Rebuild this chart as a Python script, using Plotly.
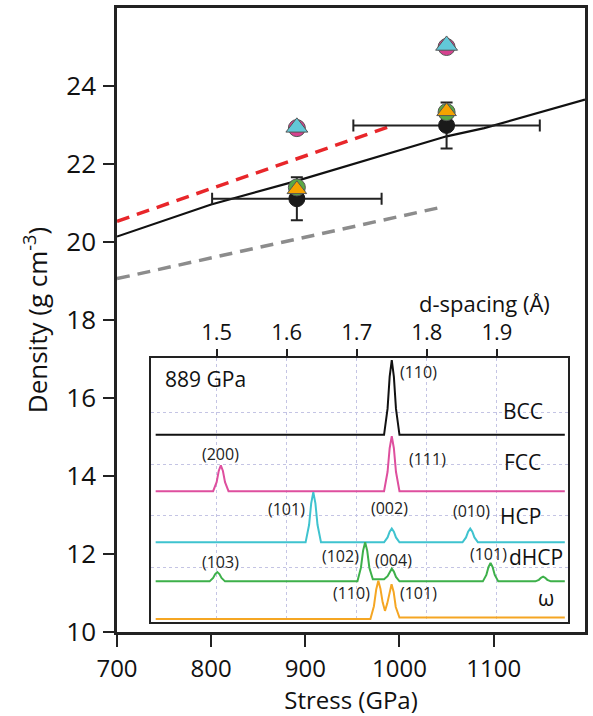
import plotly.graph_objects as go

# ---------------- main panel data ----------------
stress_meas = [891, 1050]
density_meas = [21.11, 22.99]
stress_err = [90, 99]
density_err = [0.55, 0.59]

density_green = [21.40, 23.33]
density_orange = [21.35, 23.35]
density_magenta = [22.92, 25.00]
density_cyan = [22.94, 25.04]

curve_stress = [700, 800, 890, 1050, 1090, 1150, 1197]
curve_density = [20.14, 20.96, 21.56, 22.71, 22.92, 23.32, 23.65]

red_stress = [700, 993]
red_density = [20.53, 22.99]
gray_stress = [700, 1046]
gray_density = [19.06, 20.90]

x_ticks = [700, 800, 900, 1000, 1100]
y_ticks = [10, 12, 14, 16, 18, 20, 22, 24]

# ---------------- inset data (d-spacing in Angstrom, intensity arb.) ----------------
d_ticks = [1.5, 1.6, 1.7, 1.8, 1.9]
offsets = {"BCC": 71.3, "FCC": 49.5, "HCP": 29.7, "dHCP": 14.6, "ω": 0.0}

bcc_d = [1.413, 1.739, 1.744, 1.747, 1.750, 1.753, 1.756, 1.761, 1.997]
bcc_i = [0, 0, 10.1, 22.5, 28.9, 22.5, 10.1, 0, 0]

fcc_d = [1.413, 1.495, 1.500, 1.503, 1.506, 1.509, 1.512, 1.517,
         1.739, 1.744, 1.747, 1.750, 1.753, 1.756, 1.761, 1.997]
fcc_i = [0, 0, 3.5, 7.8, 10.0, 7.8, 3.5, 0,
         0, 7.5, 16.6, 21.3, 16.6, 7.5, 0, 0]

hcp_d = [1.413, 1.627, 1.632, 1.635, 1.638, 1.641, 1.644, 1.649,
         1.739, 1.744, 1.747, 1.750, 1.753, 1.756, 1.761,
         1.851, 1.856, 1.859, 1.862, 1.865, 1.868, 1.873, 1.997]
hcp_i = [0, 0, 6.8, 15.1, 19.4, 15.1, 6.8, 0,
         0, 1.9, 4.1, 5.3, 4.1, 1.9, 0,
         0, 1.9, 4.1, 5.3, 4.1, 1.9, 0, 0]

dhcp_d = [1.413, 1.490, 1.495, 1.498, 1.501, 1.504, 1.507, 1.512,
          1.701, 1.706, 1.709, 1.712, 1.715, 1.718, 1.723,
          1.739, 1.744, 1.747, 1.750, 1.753, 1.756, 1.761,
          1.880, 1.885, 1.888, 1.891, 1.894, 1.897, 1.902,
          1.955, 1.960, 1.963, 1.966, 1.969, 1.972, 1.977, 1.997]
dhcp_i = [0, 0, 1.3, 2.8, 3.6, 2.8, 1.3, 0,
          0, 5.3, 11.8, 15.1, 11.8, 5.3, 0.8,
          0.8, 2.0, 3.8, 4.9, 3.8, 1.7, 0,
          0, 2.5, 5.5, 7.1, 5.5, 2.5, 0,
          0, 0.6, 1.4, 1.8, 1.4, 0.6, 0, 0]

omega_d = [1.413, 1.7195, 1.7245, 1.7278, 1.7308, 1.7338, 1.7370, 1.7403,
           1.7435, 1.7467, 1.7497, 1.7527, 1.7557, 1.7610, 1.997]
omega_i = [0, 0, 5.0, 11.5, 14.8, 11.8, 6.5, 3.2,
           6.0, 10.5, 13.5, 10.5, 4.7, 0.6, 0.6]

peak_labels = ["(110)", "(200)", "(111)", "(101)", "(002)", "(010)",
               "(102)", "(004)", "(103)", "(101)", "(110)", "(101)"]
peak_label_d = [1.7875, 1.5062, 1.8007, 1.5999, 1.7474, 1.8641,
                1.6765, 1.7520, 1.5062, 1.8880, 1.6920, 1.7875]
peak_label_y = [95.5, 63.8, 61.8, 42.7, 43.1, 41.8,
                24.5, 23.0, 22.1, 25.2, 10.0, 10.0]

phase_names = ["BCC", "FCC", "HCP", "dHCP", "ω"]
phase_label_d = [1.9681, 1.9653, 1.9653, 1.9979, 1.9851]
phase_label_y = [80.5, 60.6, 39.8, 23.9, 8.1]

FONT = "Open Sans"

fig = go.Figure()

# lines
fig.add_trace(go.Scatter(x=gray_stress, y=gray_density, mode="lines",
                         line=dict(color="#8c8c8c", width=3.5, dash="13px,8px"),
                         showlegend=False, xaxis="x", yaxis="y"))
fig.add_trace(go.Scatter(x=red_stress, y=red_density, mode="lines",
                         line=dict(color="#e8262a", width=3.5, dash="13px,8px"),
                         showlegend=False))
fig.add_trace(go.Scatter(x=curve_stress, y=curve_density, mode="lines",
                         line=dict(color="#111111", width=2.2),
                         showlegend=False))

# measured points with error bars
fig.add_trace(go.Scatter(x=stress_meas, y=density_meas, mode="markers",
                         marker=dict(symbol="circle", size=16, color="#1a1a1a",
                                     line=dict(color="#1a1a1a", width=1)),
                         error_x=dict(type="data", array=stress_err, color="#222222",
                                      thickness=2, width=6),
                         error_y=dict(type="data", array=density_err, color="#222222",
                                      thickness=2, width=6),
                         showlegend=False))
# model points
fig.add_trace(go.Scatter(x=stress_meas, y=density_green, mode="markers",
                         marker=dict(symbol="circle", size=17, color="#5aa945",
                                     line=dict(color="#555555", width=1)),
                         showlegend=False))
fig.add_trace(go.Scatter(x=stress_meas, y=density_orange, mode="markers",
                         marker=dict(symbol="triangle-up", size=17, color="#f5a300",
                                     line=dict(color="#555555", width=1)),
                         showlegend=False))
fig.add_trace(go.Scatter(x=stress_meas, y=density_magenta, mode="markers",
                         marker=dict(symbol="circle", size=17, color="#d6428f",
                                     line=dict(color="#555555", width=1)),
                         showlegend=False))
fig.add_trace(go.Scatter(x=stress_meas, y=density_cyan, mode="markers",
                         marker=dict(symbol="triangle-up", size=19, color="#62c8d8",
                                     line=dict(color="#555555", width=1)),
                         showlegend=False))

# inset traces
inset_series = [
    ("BCC", bcc_d, bcc_i, "#111111"),
    ("FCC", fcc_d, fcc_i, "#de4f9e"),
    ("HCP", hcp_d, hcp_i, "#3fc3cf"),
    ("dHCP", dhcp_d, dhcp_i, "#3db04a"),
    ("ω", omega_d, omega_i, "#f5a623"),
]
for name, dd, ii, col in inset_series:
    fig.add_trace(go.Scatter(x=dd, y=[v + offsets[name] for v in ii], mode="lines",
                             line=dict(color=col, width=2),
                             showlegend=False, xaxis="x2", yaxis="y2"))

annotations = []
for txt, dx, dy in zip(peak_labels, peak_label_d, peak_label_y):
    annotations.append(dict(text=txt, x=dx, y=dy, xref="x2", yref="y2",
                            showarrow=False, xanchor="center", yanchor="middle",
                            font=dict(family=FONT, size=16, color="#222222")))
for txt, dx, dy in zip(phase_names, phase_label_d, phase_label_y):
    annotations.append(dict(text=txt, x=dx, y=dy, xref="x2", yref="y2",
                            showarrow=False, xanchor="right", yanchor="middle",
                            font=dict(family=FONT, size=21, color="#111111")))
annotations.append(dict(text="889 GPa", x=1.4234, y=92.9, xref="x2", yref="y2",
                        showarrow=False, xanchor="left", yanchor="middle",
                        font=dict(family=FONT, size=21, color="#111111")))
annotations.append(dict(text="d-spacing (Å)", x=1.8826, y=0.528, xref="x2", yref="paper",
                        showarrow=False, xanchor="center", yanchor="middle",
                        font=dict(family=FONT, size=22, color="#111111")))

fig.update_layout(
    width=593, height=716,
    margin=dict(l=117, r=5, t=8, b=84),
    paper_bgcolor="white", plot_bgcolor="white",
    font=dict(family=FONT, color="#111111"),
    annotations=annotations,
    xaxis=dict(range=[700, 1197], tickvals=x_ticks, ticks="outside", ticklen=12,
               tickwidth=2, tickcolor="#222222", showline=True, linewidth=2.5,
               linecolor="#222222", mirror=True, showgrid=False, zeroline=False,
               tickfont=dict(size=24, family=FONT), ticklabelstandoff=1,
               title=dict(text="Stress (GPa)", font=dict(size=24, family=FONT), standoff=8)),
    yaxis=dict(range=[10, 26], tickvals=y_ticks, ticks="outside", ticklen=11,
               tickwidth=2, tickcolor="#222222", showline=True, linewidth=2.5,
               linecolor="#222222", mirror=True, showgrid=False, zeroline=False,
               tickfont=dict(size=26, family=FONT), ticklabelstandoff=2,
               title=dict(text="Density (g cm<sup>-3</sup>)", font=dict(size=26, family=FONT),
                          standoff=12)),
    xaxis2=dict(domain=[0.0732, 0.9639], anchor="y2", side="top",
                range=[1.4067, 2.0017], tickvals=d_ticks,
                ticktext=["1.5", "1.6", "1.7", "1.8", "1.9"],
                ticks="outside", ticklen=7, tickwidth=1.5, tickcolor="#222222",
                showline=True, linewidth=2, linecolor="#222222", mirror=True,
                showgrid=True, gridcolor="#c4c4e4", griddash="dot", gridwidth=1,
                zeroline=False, tickfont=dict(size=22, family=FONT)),
    yaxis2=dict(domain=[0.0165, 0.4391], anchor="x2", range=[-1, 101],
                tickvals=[20, 40, 60, 80], showticklabels=False, ticks="",
                showline=True, linewidth=2, linecolor="#222222", mirror=True,
                showgrid=True, gridcolor="#c4c4e4", griddash="dot", gridwidth=1,
                zeroline=False),
)

fig.write_html("out.html")
